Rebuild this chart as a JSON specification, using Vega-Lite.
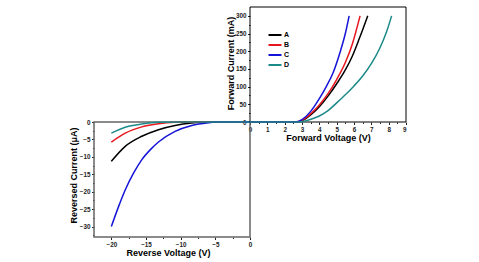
{
  "$schema": "https://vega.github.io/schema/vega-lite/v6.json",
  "background": "white",
  "width": 312,
  "height": 230,
  "autosize": {"type": "none"},
  "padding": {"left": 94, "top": 7, "right": 73, "bottom": 25},
  "datasets": {
    "forward": [
      {"sample": "A", "v": 0, "i": 0}, {"sample": "A", "v": 2.7, "i": 0}, {"sample": "A", "v": 3.0, "i": 4},
      {"sample": "A", "v": 3.5, "i": 20}, {"sample": "A", "v": 4.0, "i": 43}, {"sample": "A", "v": 4.5, "i": 73},
      {"sample": "A", "v": 5.0, "i": 108}, {"sample": "A", "v": 5.5, "i": 147}, {"sample": "A", "v": 5.9, "i": 186},
      {"sample": "A", "v": 6.3, "i": 235}, {"sample": "A", "v": 6.79, "i": 300},
      {"sample": "B", "v": 0, "i": 0}, {"sample": "B", "v": 2.65, "i": 0}, {"sample": "B", "v": 3.0, "i": 5},
      {"sample": "B", "v": 3.5, "i": 23}, {"sample": "B", "v": 4.0, "i": 48}, {"sample": "B", "v": 4.5, "i": 80},
      {"sample": "B", "v": 5.0, "i": 120}, {"sample": "B", "v": 5.5, "i": 168}, {"sample": "B", "v": 5.9, "i": 220},
      {"sample": "B", "v": 6.35, "i": 300},
      {"sample": "C", "v": 0, "i": 0}, {"sample": "C", "v": 2.6, "i": 0}, {"sample": "C", "v": 3.0, "i": 7},
      {"sample": "C", "v": 3.5, "i": 30}, {"sample": "C", "v": 4.0, "i": 66}, {"sample": "C", "v": 4.4, "i": 100},
      {"sample": "C", "v": 4.8, "i": 140}, {"sample": "C", "v": 5.2, "i": 198}, {"sample": "C", "v": 5.5, "i": 250},
      {"sample": "C", "v": 5.72, "i": 300},
      {"sample": "D", "v": 0, "i": 0}, {"sample": "D", "v": 2.8, "i": 0}, {"sample": "D", "v": 3.2, "i": 3},
      {"sample": "D", "v": 3.6, "i": 9}, {"sample": "D", "v": 4.0, "i": 17}, {"sample": "D", "v": 4.5, "i": 32},
      {"sample": "D", "v": 5.0, "i": 54}, {"sample": "D", "v": 5.5, "i": 77}, {"sample": "D", "v": 6.0, "i": 102},
      {"sample": "D", "v": 6.5, "i": 130}, {"sample": "D", "v": 7.0, "i": 165}, {"sample": "D", "v": 7.5, "i": 210},
      {"sample": "D", "v": 7.9, "i": 258}, {"sample": "D", "v": 8.17, "i": 300}
    ],
    "reverse": [
      {"sample": "A", "v": 0, "i": 0}, {"sample": "A", "v": -6, "i": 0}, {"sample": "A", "v": -8.4, "i": -0.3},
      {"sample": "A", "v": -10.8, "i": -1}, {"sample": "A", "v": -13.2, "i": -2.2}, {"sample": "A", "v": -15.6, "i": -4.1},
      {"sample": "A", "v": -18, "i": -7}, {"sample": "A", "v": -20, "i": -11.3},
      {"sample": "B", "v": 0, "i": 0}, {"sample": "B", "v": -8, "i": 0}, {"sample": "B", "v": -10.8, "i": -0.1},
      {"sample": "B", "v": -13.2, "i": -0.5}, {"sample": "B", "v": -15.6, "i": -1.4}, {"sample": "B", "v": -18, "i": -3.2},
      {"sample": "B", "v": -20, "i": -5.75},
      {"sample": "C", "v": 0, "i": 0}, {"sample": "C", "v": -5, "i": 0}, {"sample": "C", "v": -6, "i": -0.2},
      {"sample": "C", "v": -8.4, "i": -1}, {"sample": "C", "v": -10.8, "i": -2.7}, {"sample": "C", "v": -13.2, "i": -5.75},
      {"sample": "C", "v": -14.4, "i": -8}, {"sample": "C", "v": -15.6, "i": -10.8}, {"sample": "C", "v": -16.8, "i": -14.7},
      {"sample": "C", "v": -18, "i": -19.5}, {"sample": "C", "v": -19, "i": -24.5}, {"sample": "C", "v": -20, "i": -30},
      {"sample": "D", "v": 0, "i": 0}, {"sample": "D", "v": -9, "i": 0}, {"sample": "D", "v": -13.2, "i": -0.1},
      {"sample": "D", "v": -15.6, "i": -0.6}, {"sample": "D", "v": -18, "i": -1.5}, {"sample": "D", "v": -20, "i": -3.2}
    ]
  },
  "config": {
    "view": {"stroke": null},
    "axis": {
      "grid": false,
      "domain": false,
      "labelFont": "Liberation Sans",
      "labelFontWeight": "bold",
      "labelFontSize": 6.3,
      "labelColor": "#222222",
      "labelPadding": 1.5,
      "tickSize": 2.5,
      "tickColor": "#222222",
      "titleFont": "Liberation Sans",
      "titleFontWeight": "bold",
      "titleFontSize": 9,
      "titleColor": "black",
      "titleBaseline": "middle",
      "titleAlign": "center"
    },
    "legend": {
      "title": null,
      "orient": "none",
      "legendX": 175,
      "legendY": 22,
      "padding": 0,
      "symbolType": "M-1.3,0H1.3",
      "symbolSize": 100,
      "symbolStrokeWidth": 2,
      "labelFont": "Liberation Sans",
      "labelFontWeight": "bold",
      "labelFontSize": 7,
      "labelColor": "black",
      "labelOffset": 3,
      "rowPadding": -2
    }
  },
  "resolve": {"scale": {"x": "independent", "y": "independent"}},
  "layer": [
    {
      "resolve": {"axis": {"x": "independent", "y": "independent"}},
      "layer": [
        {
          "data": {"values": [{}]},
          "mark": {"type": "rect", "fill": null, "stroke": "#666666", "strokeWidth": 1.5},
          "encoding": {
            "x": {
              "datum": -22.5, "type": "quantitative",
              "scale": {"domain": [-22.5, 22.5], "nice": false, "zero": false},
              "axis": {"orient": "bottom", "values": [-17.5, -12.5, -7.5, -2.5], "labels": false, "tickSize": 1.5, "title": null}
            },
            "x2": {"datum": 0},
            "y": {
              "datum": -33, "type": "quantitative",
              "scale": {"domain": [-33, 33], "nice": false, "zero": false},
              "axis": {"orient": "left", "values": [-2.5, -7.5, -12.5, -17.5, -22.5, -27.5, -32.5], "labels": false, "tickSize": 1.5, "title": null}
            },
            "y2": {"datum": 0}
          }
        },
        {
          "data": {"name": "reverse"},
          "mark": {"type": "line", "strokeWidth": 1.5, "interpolate": "monotone"},
          "encoding": {
            "x": {
              "field": "v", "type": "quantitative",
              "axis": {"orient": "bottom", "values": [-20, -15, -10, -5, 0], "title": "Reverse Voltage (V)", "titleX": 74, "titleY": 15}
            },
            "y": {
              "field": "i", "type": "quantitative",
              "axis": {"orient": "left", "values": [0, -5, -10, -15, -20, -25, -30], "title": "Reversed Current (μA)", "titleX": -21, "titleY": 168, "titleAngle": -90}
            },
            "color": {
              "field": "sample", "type": "nominal",
              "scale": {"domain": ["A", "B", "C", "D"], "range": ["#000000", "#e8161c", "#1414d8", "#1b8a88"]}
            }
          }
        }
      ]
    },
    {
      "resolve": {"axis": {"x": "independent", "y": "independent"}},
      "layer": [
        {
          "data": {"values": [{}]},
          "mark": {"type": "rect", "fill": null, "stroke": "black", "strokeWidth": 1},
          "encoding": {
            "x": {
              "datum": 0, "type": "quantitative",
              "scale": {"domain": [-9, 9], "nice": false, "zero": false},
              "axis": {"orient": "bottom", "offset": -115, "values": [0.5, 1.5, 2.5, 3.5, 4.5, 5.5, 6.5, 7.5, 8.5], "labels": false, "tickSize": 1.5, "title": null}
            },
            "x2": {"datum": 9},
            "y": {
              "datum": 0, "type": "quantitative",
              "scale": {"domain": [-325, 325], "nice": false, "zero": false},
              "axis": {"orient": "left", "offset": -156, "values": [25, 75, 125, 175, 225, 275], "labels": false, "tickSize": 1.5, "title": null}
            },
            "y2": {"datum": 325}
          }
        },
        {
          "data": {"name": "forward"},
          "mark": {"type": "line", "strokeWidth": 1.5, "interpolate": "monotone"},
          "encoding": {
            "x": {
              "field": "v", "type": "quantitative",
              "axis": {"orient": "bottom", "offset": -115, "values": [0, 1, 2, 3, 4, 5, 6, 7, 8, 9], "title": "Forward Voltage (V)", "titleX": 234, "titleY": 15}
            },
            "y": {
              "field": "i", "type": "quantitative",
              "axis": {"orient": "left", "offset": -156, "values": [0, 50, 100, 150, 200, 250, 300], "title": "Forward Current (mA)", "titleX": -20, "titleY": 56, "titleAngle": -90}
            },
            "color": {"field": "sample", "type": "nominal"}
          }
        }
      ]
    }
  ]
}
